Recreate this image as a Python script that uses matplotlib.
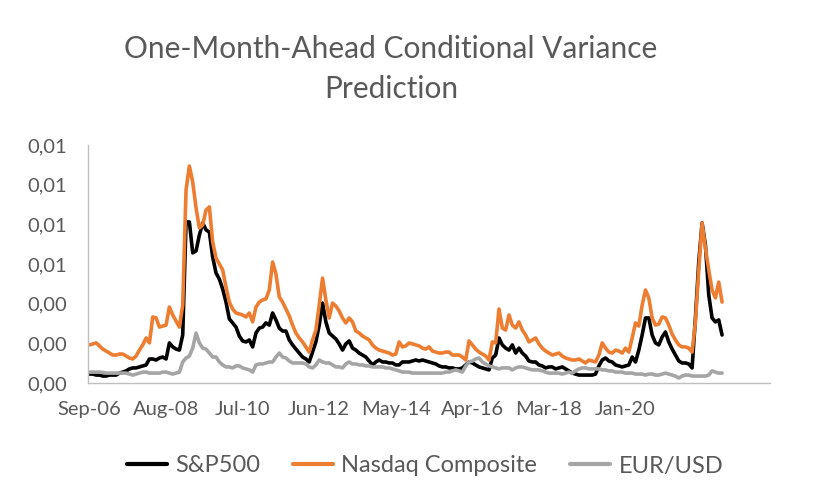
import numpy as np
import matplotlib
matplotlib.use("Agg")
import matplotlib.pyplot as plt
from matplotlib.ticker import FuncFormatter, MultipleLocator

# ---- data (values in thousandths, i.e. x 1e-3) ----
x_labels = ["Sep-06", "Aug-08", "Jul-10", "Jun-12", "May-14", "Apr-16", "Mar-18", "Jan-20"]
label_step = 23
n_categories = 205

nasdaq_e3 = [
    1.92, 1.97, 2.02, 1.87, 1.71, 1.61, 1.51, 1.41, 1.41, 1.46,
    1.46, 1.36, 1.26, 1.21, 1.36, 1.66, 1.92, 2.27, 2.02, 3.33,
    3.28, 2.82, 2.87, 2.92, 3.83, 3.43, 3.13, 2.82, 3.93, 9.73,
    10.94, 10.14, 8.83, 7.82, 7.97, 8.72, 8.88, 7.11, 6.30, 6.00,
    5.70, 4.84, 4.08, 3.73, 3.53, 3.48, 3.43, 3.33, 3.53, 3.08,
    3.83, 4.08, 4.19, 4.24, 4.69, 6.10, 5.50, 4.34, 4.08, 3.73,
    3.38, 2.92, 2.52, 2.27, 2.07, 1.82, 1.56, 2.17, 2.67, 3.93,
    5.29, 4.19, 3.28, 4.03, 3.88, 3.63, 3.28, 3.03, 3.28, 3.08,
    2.62, 2.52, 2.37, 2.27, 2.17, 1.92, 1.76, 1.66, 1.61, 1.56,
    1.51, 1.41, 1.46, 2.07, 1.82, 1.87, 2.02, 1.97, 1.92, 1.87,
    1.76, 1.71, 1.82, 1.61, 1.56, 1.51, 1.51, 1.56, 1.56, 1.41,
    1.41, 1.41, 1.31, 1.16, 2.12, 1.92, 1.71, 1.56, 1.46, 1.36,
    1.16, 2.07, 2.02, 3.73, 2.77, 2.67, 3.43, 2.92, 2.77, 3.08,
    2.67, 2.42, 2.07, 2.17, 2.27, 1.97, 1.76, 1.61, 1.51, 1.41,
    1.46, 1.51, 1.36, 1.26, 1.21, 1.16, 1.16, 1.21, 1.11, 1.01,
    1.16, 1.11, 1.06, 1.41, 2.02, 1.76, 1.56, 1.51, 1.66, 1.61,
    1.51, 1.76, 1.56, 2.27, 3.03, 2.87, 3.93, 4.69, 4.29, 3.28,
    2.92, 2.97, 3.33, 3.28, 2.92, 2.47, 2.17, 1.92, 1.82, 1.82,
    1.76, 1.56, 3.08, 5.70, 8.07, 6.81, 5.70, 4.69, 4.29, 5.09, 4.08,
]

sp500_e3 = [
    0.45, 0.45, 0.40, 0.40, 0.35, 0.35, 0.40, 0.40, 0.40, 0.50,
    0.55, 0.61, 0.71, 0.76, 0.76, 0.81, 0.86, 0.91, 1.21, 1.21,
    1.16, 1.26, 1.31, 1.21, 2.02, 1.82, 1.71, 1.66, 2.42, 8.12,
    8.12, 6.56, 6.66, 7.46, 8.07, 7.72, 7.61, 6.35, 5.55, 5.24,
    4.74, 4.08, 3.23, 3.03, 2.82, 2.37, 2.12, 2.07, 2.17, 1.82,
    2.52, 2.77, 2.82, 3.03, 2.92, 3.53, 3.18, 2.77, 2.62, 2.62,
    2.17, 1.92, 1.71, 1.51, 1.31, 1.21, 1.06, 1.56, 2.07, 2.92,
    4.03, 3.08, 2.52, 2.37, 2.22, 1.97, 1.66, 1.97, 2.12, 1.76,
    1.66, 1.51, 1.41, 1.31, 1.11, 0.91, 1.06, 1.16, 1.06, 1.06,
    1.01, 1.01, 0.91, 0.91, 1.06, 1.06, 1.06, 1.11, 1.16, 1.11,
    1.16, 1.11, 1.06, 1.01, 0.96, 0.86, 0.81, 0.81, 0.76, 0.76,
    0.71, 0.71, 0.76, 0.91, 1.06, 1.01, 0.91, 0.81, 0.76, 0.71,
    0.66, 1.26, 1.41, 2.27, 1.92, 1.76, 1.66, 1.92, 1.51, 1.76,
    1.51, 1.36, 1.11, 1.06, 1.06, 0.91, 0.86, 0.76, 0.81, 0.81,
    0.71, 0.76, 0.81, 0.71, 0.61, 0.50, 0.45, 0.40, 0.40, 0.40,
    0.40, 0.40, 0.45, 0.86, 1.16, 1.26, 1.11, 1.06, 0.91, 0.86,
    0.81, 0.86, 0.91, 1.31, 1.06, 1.66, 2.42, 3.28, 3.28, 2.42,
    2.02, 1.92, 2.32, 2.57, 2.07, 1.71, 1.41, 1.11, 1.01, 1.01,
    0.96, 0.76, 3.28, 6.10, 8.07, 6.96, 4.44, 3.28, 3.08, 3.18, 2.42,
]

eurusd_e3 = [
    0.55, 0.55, 0.55, 0.55, 0.53, 0.50, 0.50, 0.50, 0.50, 0.50,
    0.50, 0.50, 0.45, 0.40, 0.45, 0.50, 0.55, 0.55, 0.50, 0.50,
    0.50, 0.50, 0.55, 0.55, 0.50, 0.45, 0.50, 0.55, 1.06, 1.26,
    1.36, 1.76, 2.52, 2.02, 1.76, 1.71, 1.51, 1.31, 1.31, 1.06,
    0.91, 0.81, 0.81, 0.76, 0.86, 0.86, 0.76, 0.71, 0.66, 0.55,
    0.91, 0.96, 0.96, 1.01, 1.06, 1.06, 1.31, 1.51, 1.31, 1.26,
    1.11, 1.01, 1.01, 1.01, 1.01, 0.96, 0.81, 0.76, 0.91, 1.16,
    1.06, 1.01, 1.01, 0.91, 0.81, 0.81, 0.76, 0.96, 1.06, 0.96,
    0.96, 0.91, 0.91, 0.86, 0.86, 0.81, 0.81, 0.81, 0.81, 0.76,
    0.76, 0.71, 0.66, 0.61, 0.55, 0.55, 0.55, 0.50, 0.50, 0.50,
    0.50, 0.50, 0.50, 0.50, 0.50, 0.50, 0.50, 0.55, 0.55, 0.61,
    0.66, 0.61, 0.55, 0.86, 1.06, 1.11, 1.21, 1.26, 1.06, 0.96,
    0.86, 0.81, 0.76, 0.71, 0.76, 0.76, 0.76, 0.66, 0.76, 0.81,
    0.81, 0.76, 0.71, 0.66, 0.66, 0.66, 0.61, 0.55, 0.50, 0.50,
    0.50, 0.50, 0.45, 0.50, 0.55, 0.50, 0.61, 0.71, 0.76, 0.76,
    0.71, 0.71, 0.71, 0.71, 0.66, 0.66, 0.61, 0.61, 0.55, 0.55,
    0.55, 0.50, 0.50, 0.50, 0.45, 0.45, 0.45, 0.40, 0.45, 0.45,
    0.40, 0.40, 0.45, 0.50, 0.45, 0.40, 0.35, 0.25, 0.35, 0.40,
    0.40, 0.35, 0.35, 0.35, 0.35, 0.35, 0.40, 0.61, 0.55, 0.50, 0.50,
]

series_names = ["S&P500", "Nasdaq Composite", "EUR/USD"]
series_colors = ["#000000", "#ED7D31", "#A5A5A5"]

# ---- figure ----
FONT = ["Lato", "DejaVu Sans"]
plt.rcParams["font.family"] = FONT
TXT = "#595959"
AX = "#BFBFBF"

fig = plt.figure(figsize=(8.22, 5.00), dpi=100)
ax = fig.add_axes([88 / 822, 117 / 500, 682 / 822, 238 / 500])

for vals, name, col in zip([sp500_e3, nasdaq_e3, eurusd_e3], series_names, series_colors):
    v = np.asarray(vals) * 1e-3
    ax.plot(np.arange(len(v)), v, color=col, lw=2.6, label=name,
            solid_joinstyle="round", solid_capstyle="round")

ax.set_xlim(-0.45, n_categories - 0.6)
ax.set_ylim(0, 0.012)
ax.yaxis.set_major_locator(MultipleLocator(0.002))
ax.yaxis.set_major_formatter(FuncFormatter(lambda v, p: f"{v:.2f}".replace(".", ",")))
ax.set_xticks([i * label_step for i in range(len(x_labels))])
ax.set_xticklabels(x_labels)

for s in ["top", "right"]:
    ax.spines[s].set_visible(False)
for s in ["left", "bottom"]:
    ax.spines[s].set_color(AX)
    ax.spines[s].set_linewidth(1.0)
ax.tick_params(axis="both", length=0, labelsize=14.5, colors=TXT)
ax.tick_params(axis="y", pad=15)
ax.tick_params(axis="x", pad=13)

fig.text(391 / 822, 1 - 69 / 500, "One-Month-Ahead Conditional Variance\nPrediction",
         ha="center", va="center", fontsize=21.5, color=TXT, fontweight="normal",
         linespacing=1.5)

leg = fig.legend(loc="center", bbox_to_anchor=(425 / 822, 1 - 466 / 500), ncol=3,
                 frameon=False, fontsize=17, handlelength=1.7, columnspacing=1.4,
                 handletextpad=0.35)
for t in leg.get_texts():
    t.set_color(TXT)
for h in leg.get_lines():
    h.set_linewidth(3)

fig.savefig("out.png", dpi=100)
